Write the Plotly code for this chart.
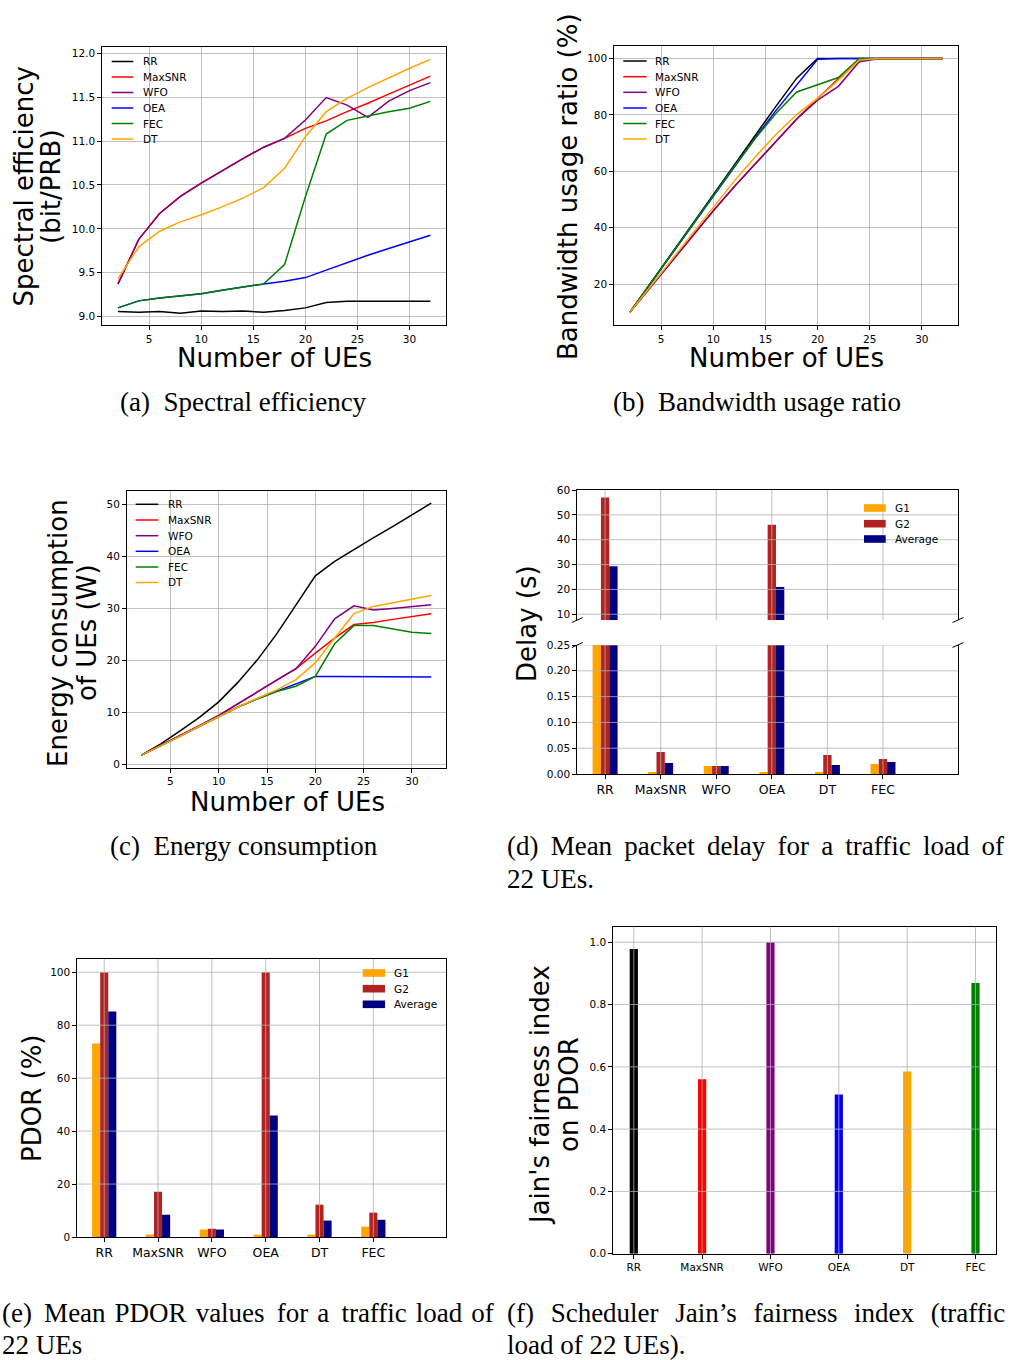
import plotly.graph_objects as go

W, H = 1010, 1360

# ---------------- data ----------------
ues = [2, 4, 6, 8, 10, 12, 14, 16, 18, 20, 22, 24, 26, 28, 30, 32]
schedulers = ["RR", "MaxSNR", "WFO", "OEA", "FEC", "DT"]
sched_colors = ["black", "red", "purple", "blue", "green", "orange"]

se_rr = [9.06, 9.05, 9.06, 9.04, 9.065, 9.06, 9.065, 9.05, 9.07, 9.10, 9.16, 9.175, 9.175, 9.175, 9.175, 9.175]
se_maxsnr = [9.37, 9.88, 10.175, 10.37, 10.52, 10.66, 10.80, 10.93, 11.03, 11.145, 11.23, 11.335, 11.43, 11.535, 11.64, 11.74]
se_wfo = [9.37, 9.88, 10.175, 10.37, 10.52, 10.66, 10.80, 10.93, 11.03, 11.24, 11.495, 11.41, 11.27, 11.455, 11.575, 11.665]
se_oea = [9.10, 9.18, 9.213, 9.24, 9.262, 9.30, 9.338, 9.373, 9.403, 9.445, 9.53, 9.616, 9.70, 9.776, 9.852, 9.928]
se_fec = [9.10, 9.18, 9.213, 9.24, 9.262, 9.30, 9.338, 9.373, 9.593, 10.365, 11.08, 11.236, 11.285, 11.335, 11.373, 11.452]
se_dt = [9.43, 9.795, 9.973, 10.08, 10.16, 10.25, 10.35, 10.47, 10.69, 11.05, 11.335, 11.487, 11.608, 11.722, 11.829, 11.93]

bw_rr = [10, 20.5, 31, 41.5, 52, 62.3, 72.6, 83, 93, 100, 100, 100, 100, 100, 100, 100]
bw_maxsnr = [10, 19, 28, 37, 46, 54.5, 62.5, 70.5, 78.5, 85.8, 92.9, 99.4, 100, 100, 100, 100]
bw_wfo = [10, 19, 28, 37, 46, 54.5, 62.5, 70.5, 78.5, 85.2, 90.1, 98.8, 100, 100, 100, 100]
bw_oea = [10, 20.3, 30.7, 41, 51.4, 61.6, 71.7, 81.5, 90.5, 99.7, 100, 100, 100, 100, 100, 100]
bw_fec = [10, 20.4, 30.8, 41.2, 51.5, 61.7, 71.5, 80.5, 88.1, 90.7, 93.2, 100, 100, 100, 100, 100]
bw_dt = [10, 19.3, 28.6, 38, 47.5, 56.5, 65, 73, 80.1, 85.8, 92.3, 99.4, 100, 100, 100, 100]

en_rr = [1.73, 3.9, 6.4, 9.0, 12.0, 15.8, 20.1, 25.1, 30.7, 36.3, 39.1, 41.4, 43.6, 45.8, 48.1, 50.3]
en_maxsnr = [1.73, 3.6, 5.5, 7.4, 9.4, 11.6, 13.9, 16.2, 18.4, 21.4, 24.3, 26.9, 27.3, 27.9, 28.5, 29.0]
en_wfo = [1.73, 3.6, 5.5, 7.4, 9.4, 11.6, 13.9, 16.2, 18.4, 22.7, 28.0, 30.5, 29.7, 30.0, 30.4, 30.7]
en_oea = [1.73, 3.5, 5.4, 7.3, 9.2, 11.0, 12.6, 14.0, 15.5, 16.9, 16.9, 16.9, 16.9, 16.85, 16.85, 16.8]
en_fec = [1.73, 3.5, 5.4, 7.3, 9.2, 11.0, 12.6, 14.0, 15.0, 16.9, 23.2, 26.7, 26.7, 26.0, 25.4, 25.2]
en_dt = [1.73, 3.5, 5.4, 7.3, 9.2, 11.0, 12.7, 14.3, 16.3, 19.5, 24.3, 29.0, 30.4, 31.1, 31.8, 32.5]

bar_categories = ["RR", "MaxSNR", "WFO", "OEA", "DT", "FEC"]
group_names = ["G1", "G2", "Average"]
group_colors = ["#FFA500", "#B22222", "#000080"]

delay_g1 = [1.5, 0.004, 0.0155, 0.004, 0.004, 0.0194]
delay_g2 = [57.0, 0.0426, 0.0155, 46.0, 0.037, 0.029]
delay_avg = [29.3, 0.0213, 0.0155, 21.0, 0.0175, 0.0233]

pdor_g1 = [73.1, 0.9, 2.8, 0.9, 0.9, 3.9]
pdor_g2 = [100, 17.1, 3.1, 100, 12.2, 9.2]
pdor_avg = [85.2, 8.4, 2.8, 45.9, 6.2, 6.5]

jain_values = [0.978, 0.56, 1.0, 0.511, 0.585, 0.869]
jain_colors = ["black", "red", "purple", "blue", "orange", "green"]

ue_ticks = [5, 10, 15, 20, 25, 30]

# ---------------- helpers ----------------
def fx(x):
    return x / W


def fy(y):
    return 1 - y / H


GRID = "#b0b0b0"
TICKFONT = dict(family="DejaVu Sans", size=10.5, color="black")


def axis(**kw):
    d = dict(showline=True, linecolor="black", linewidth=1, mirror=True,
             ticks="outside", ticklen=4, tickwidth=1, tickcolor="black",
             zeroline=False, tickfont=TICKFONT, showgrid=False, fixedrange=True,
             automargin=False)
    d.update(kw)
    return d


fig = go.Figure()
shapes = []
annotations = []

# ---------------- line panels ----------------
line_panels = [
    ("x", "y", [se_rr, se_maxsnr, se_wfo, se_oea, se_fec, se_dt]),
    ("x2", "y2", [bw_rr, bw_maxsnr, bw_wfo, bw_oea, bw_fec, bw_dt]),
    ("x3", "y3", [en_rr, en_maxsnr, en_wfo, en_oea, en_fec, en_dt]),
]
for xa, ya, series in line_panels:
    for name, col, vals in zip(schedulers, sched_colors, series):
        fig.add_trace(go.Scatter(x=ues, y=vals, mode="lines", name=name,
                                 line=dict(color=col, width=1.5),
                                 xaxis=xa, yaxis=ya, showlegend=False))

# ---------------- bar panels ----------------
offsets = [-0.225, -0.075, 0.075]
for xa, ya in [("x4", "y4"), ("x5", "y5")]:
    for gname, gcol, vals, off in zip(group_names, group_colors,
                                      [delay_g1, delay_g2, delay_avg], offsets):
        fig.add_trace(go.Bar(x=bar_categories, y=vals, name=gname, width=0.15, offset=off,
                             marker=dict(color=gcol, line=dict(width=0)),
                             xaxis=xa, yaxis=ya, showlegend=False))
for gname, gcol, vals, off in zip(group_names, group_colors,
                                  [pdor_g1, pdor_g2, pdor_avg], offsets):
    fig.add_trace(go.Bar(x=bar_categories, y=vals, name=gname, width=0.15, offset=off,
                         marker=dict(color=gcol, line=dict(width=0)),
                         xaxis="x6", yaxis="y6", showlegend=False))

fig.add_trace(go.Bar(x=bar_categories, y=jain_values, width=0.12,
                     marker=dict(color=jain_colors, line=dict(width=0)),
                     xaxis="x7", yaxis="y7", showlegend=False))

# ---------------- axes ----------------
layout_axes = dict(
    xaxis=axis(domain=[fx(102.3), fx(446)], range=[0.5, 33.5], tickvals=ue_ticks, anchor="y",
               showgrid=True, gridcolor=GRID, gridwidth=0.8),
    yaxis=axis(domain=[fy(325), fy(46.5)], range=[8.905, 12.077],
               tickvals=[9.0, 9.5, 10.0, 10.5, 11.0, 11.5, 12.0], tickformat=".1f", anchor="x",
               showgrid=True, gridcolor=GRID, gridwidth=0.8),
    xaxis2=axis(domain=[fx(614.3), fx(958.3)], range=[0.5, 33.5], tickvals=ue_ticks, anchor="y2",
                showgrid=True, gridcolor=GRID, gridwidth=0.8),
    yaxis2=axis(domain=[fy(325), fy(45.7)], range=[5.5, 104.5],
                tickvals=[20, 40, 60, 80, 100], anchor="x2",
                showgrid=True, gridcolor=GRID, gridwidth=0.8),
    xaxis3=axis(domain=[fx(127), fx(445.7)], range=[0.5, 33.5], tickvals=ue_ticks, anchor="y3",
                showgrid=True, gridcolor=GRID, gridwidth=0.8),
    yaxis3=axis(domain=[fy(767.7), fy(490.5)], range=[-0.7, 52.75],
                tickvals=[0, 10, 20, 30, 40, 50], anchor="x3",
                showgrid=True, gridcolor=GRID, gridwidth=0.8),
    # delay, upper part
    xaxis4=axis(domain=[fx(577.3), fx(958)], type="category", range=[-0.5, 6.35], anchor="y4",
                side="top", mirror=False, ticks="", showticklabels=False, layer="above traces"),
    yaxis4=axis(domain=[fy(620), fy(490)], range=[7.7, 60],
                tickvals=[10, 20, 30, 40, 50, 60], anchor="x4", layer="above traces"),
    # delay, lower part
    xaxis5=axis(domain=[fx(577.3), fx(958)], type="category", range=[-0.5, 6.35], anchor="y5",
                mirror=False, layer="above traces",
                tickfont=dict(family="DejaVu Sans", size=12.5, color="black")),
    yaxis5=axis(domain=[fy(774), fy(645)], range=[0, 0.25],
                tickvals=[0, 0.05, 0.10, 0.15, 0.20, 0.25], tickformat=".2f", anchor="x5",
                layer="above traces"),
    # PDOR
    xaxis6=axis(domain=[fx(77.3), fx(446)], type="category", range=[-0.5, 6.35], anchor="y6",
                layer="above traces",
                tickfont=dict(family="DejaVu Sans", size=12.5, color="black")),
    yaxis6=axis(domain=[fy(1237), fy(959)], range=[0, 105],
                tickvals=[0, 20, 40, 60, 80, 100], anchor="x6", layer="above traces"),
    # Jain
    xaxis7=axis(domain=[fx(613.3), fx(996)], type="category", range=[-0.3, 5.3], anchor="y7",
                layer="above traces"),
    yaxis7=axis(domain=[fy(1253.7), fy(926.7)], range=[0, 1.05],
                tickvals=[0, 0.2, 0.4, 0.6, 0.8, 1.0], tickformat=".1f", anchor="x7",
                layer="above traces"),
)

# grid lines drawn above the bars (as in the reference)
def bar_grid(xa, ya, yticks):
    for c in bar_categories:
        shapes.append(dict(type="line", xref=xa, yref=ya + " domain", x0=c, x1=c, y0=0, y1=1,
                           line=dict(color=GRID, width=0.8), layer="above"))
    for t in yticks:
        shapes.append(dict(type="line", xref=xa + " domain", yref=ya, x0=0, x1=1, y0=t, y1=t,
                           line=dict(color=GRID, width=0.8), layer="above"))


bar_grid("x4", "y4", [10, 20, 30, 40, 50])
bar_grid("x5", "y5", [0.05, 0.10, 0.15, 0.20, 0.25])
bar_grid("x6", "y6", [20, 40, 60, 80, 100])
bar_grid("x7", "y7", [0.2, 0.4, 0.6, 0.8, 1.0])

# broken-axis marks
for cx, cy in [(577.3, 620), (958, 620), (577.3, 645), (958, 645)]:
    shapes.append(dict(type="line", xref="paper", yref="paper",
                       x0=fx(cx - 5.5), y0=fy(cy + 2.5), x1=fx(cx + 5.5), y1=fy(cy - 2.5),
                       line=dict(color="black", width=1)))

# ---------------- manual legends ----------------
LEGFONT = dict(family="DejaVu Sans", size=10.5, color="black")


def line_legend(x0, x1, xt, ys):
    for name, col, yy in zip(schedulers, sched_colors, ys):
        shapes.append(dict(type="line", xref="paper", yref="paper",
                           x0=fx(x0), x1=fx(x1), y0=fy(yy), y1=fy(yy),
                           line=dict(color=col, width=1.5)))
        annotations.append(dict(text=name, xref="paper", yref="paper", x=fx(xt), y=fy(yy),
                                xanchor="left", yanchor="middle", showarrow=False, font=LEGFONT))


line_legend(111.7, 133.3, 141, [61.5, 77, 92.5, 108, 123.5, 139])
line_legend(623.3, 646.7, 653, [61, 76.7, 92.3, 108, 123.5, 139])
line_legend(135.7, 158.3, 165.5, [504.3, 520, 535.7, 551.3, 567, 582.5])


def bar_legend(x0, x1, xt, ys):
    for name, col, yy in zip(group_names, group_colors, ys):
        shapes.append(dict(type="rect", xref="paper", yref="paper",
                           x0=fx(x0), x1=fx(x1), y0=fy(yy + 3.8), y1=fy(yy - 3.8),
                           fillcolor=col, line=dict(width=0)))
        annotations.append(dict(text=name, xref="paper", yref="paper", x=fx(xt), y=fy(yy),
                                xanchor="left", yanchor="middle", showarrow=False, font=LEGFONT))


bar_legend(864, 885.7, 893, [508, 523.7, 539])
bar_legend(362.7, 385, 391.5, [973, 988.7, 1004.3])

# ---------------- axis titles ----------------
TITLEFONT = dict(family="DejaVu Sans", size=26, color="black")


def text(t, x, y, angle=0, font=TITLEFONT, xanchor="center"):
    annotations.append(dict(text=t, xref="paper", yref="paper", x=fx(x), y=fy(y),
                            xanchor=xanchor, yanchor="middle", textangle=angle,
                            showarrow=False, font=font))


text("Spectral efficiency", 23.5, 187, -90)
text("(bit/PRB)", 51, 187, -90)
text("Number of UEs", 274, 358)
text("Bandwidth usage ratio (%)", 568, 187, -90)
text("Number of UEs", 786, 358)
text("Energy consumption", 58, 633, -90)
text("of UEs (W)", 87, 633, -90)
text("Number of UEs", 287, 802)
text("Delay (s)", 527, 624, -90)
text("PDOR (%)", 32, 1098, -90)
text("Jain's fairness index", 540, 1095, -90)
text("on PDOR", 569, 1095, -90)

# ---------------- captions ----------------
CAPFONT = dict(family="Liberation Serif", size=27, color="black")
THIN = "\u2009"
HAIR = "\u200a"


def spread(s, extras):
    words = s.split(" ")
    out = words[0]
    for i, w in enumerate(words[1:]):
        out += " " + extras[i % len(extras)] + w
    return out


text("(a)  Spectral efficiency", 243, 402, font=CAPFONT)
text("(b)  Bandwidth usage ratio", 757, 402, font=CAPFONT)
text("(c)  Energy consumption", 244, 846, font=CAPFONT)
text(spread("(d) Mean packet delay for a traffic load of", [THIN]), 505, 846,
     font=CAPFONT, xanchor="left")
text("22 UEs.", 505, 879, font=CAPFONT, xanchor="left")
text(spread("(e) Mean PDOR values for a traffic load of", [THIN, HAIR, HAIR, THIN, HAIR, THIN, HAIR, HAIR]),
     0, 1313, font=CAPFONT, xanchor="left")
text("22 UEs", 0, 1345, font=CAPFONT, xanchor="left")
text(spread("(f) Scheduler Jain’s fairness index (traffic", [THIN + HAIR + HAIR]), 505, 1313,
     font=CAPFONT, xanchor="left")
text("load of 22 UEs).", 505, 1345, font=CAPFONT, xanchor="left")

fig.update_layout(
    width=W, height=H, autosize=False,
    margin=dict(l=0, r=0, t=0, b=0, autoexpand=False),
    paper_bgcolor="white", plot_bgcolor="white",
    barmode="overlay", showlegend=False,
    shapes=shapes, annotations=annotations,
    **layout_axes,
)

pin_page = ("var gd=document.getElementById('{plot_id}');"
            "document.body.style.margin='0';document.body.style.padding='0';"
            "gd.style.position='absolute';gd.style.left='0px';gd.style.top='0px';")

fig.write_html("out.html", post_script=pin_page, config={"displayModeBar": False, "staticPlot": True})
